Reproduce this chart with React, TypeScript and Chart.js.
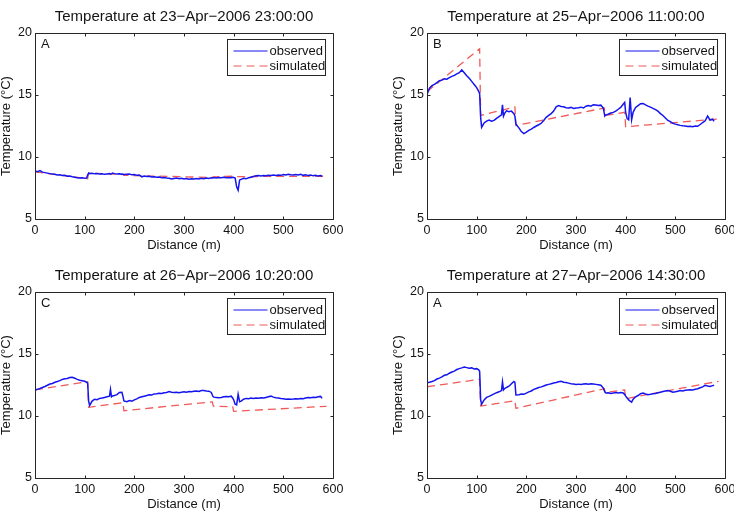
import React, { useEffect, useRef } from "react";
import { Chart, registerables } from "chart.js";

Chart.register(...registerables);

// Distance along the stream (m) at which observed temperatures were read
const DIST = [
  0, 5, 10, 15, 20, 25, 30, 35, 40, 45, 50, 55, 60, 65, 70, 75, 80, 85, 90, 95, 100,
  104, 106, 108, 110,
  115, 120, 125, 130, 135, 140, 145, 150,
  152, 154, 156,
  160, 165, 170, 175,
  177, 179,
  185, 190, 195, 200, 205, 210, 215, 220, 225, 230,
  235, 240, 245, 250, 255, 260, 265, 270, 275, 280,
  285, 290, 295, 300, 305, 310, 315, 320, 325, 330,
  335, 340, 345, 350, 355,
  358, 360,
  365, 370, 375, 380, 385, 390, 395,
  398, 400, 403, 406, 409, 412, 415,
  420, 425, 430, 435, 440, 445, 450, 455, 460, 465,
  470, 475, 480, 485, 490, 495, 500, 505, 510, 515,
  520, 525, 530, 535, 540, 545, 550, 555, 560, 565,
  570, 575,
  578,
];

// Observed temperature (°C), panel 1 (23-Apr-2006 23:00)
const OBS_1 = [
  8.87, 8.82, 8.9, 8.78, 8.74, 8.7, 8.66, 8.62, 8.6, 8.55, 8.56, 8.5, 8.52, 8.45, 8.46, 8.4, 8.36, 8.33, 8.3, 8.32, 8.28,
  8.3, 8.55, 8.7, 8.66,
  8.68, 8.64, 8.66, 8.62, 8.65, 8.6, 8.63, 8.66,
  8.62, 8.64, 8.7,
  8.66, 8.62, 8.64, 8.6,
  8.62, 8.58,
  8.6, 8.62, 8.56, 8.58, 8.52, 8.55, 8.4, 8.46, 8.42, 8.44,
  8.38, 8.4, 8.36, 8.38, 8.32, 8.34, 8.3, 8.28, 8.22, 8.26,
  8.3, 8.24, 8.28, 8.22, 8.26, 8.2, 8.24, 8.22, 8.27, 8.23,
  8.28, 8.25, 8.3, 8.27, 8.32,
  8.3, 8.34,
  8.3, 8.35, 8.32, 8.36, 8.33, 8.35, 8.32,
  8.36, 8.34, 8.3, 7.6, 7.32, 8.15, 8.2,
  8.28, 8.24, 8.32, 8.36, 8.42, 8.48, 8.5, 8.47, 8.5, 8.48,
  8.52, 8.5, 8.54, 8.51, 8.55, 8.52, 8.58, 8.55, 8.6, 8.56,
  8.54, 8.58, 8.55, 8.6, 8.52, 8.56, 8.5, 8.54, 8.48, 8.52,
  8.46, 8.5,
  8.45,
];

// Observed temperature (°C), panel 2 (25-Apr-2006 11:00)
const OBS_2 = [
  15.05, 15.55, 15.75, 15.85, 16.0, 16.15, 16.2, 16.3, 16.28, 16.4, 16.5, 16.58, 16.7, 16.8, 17.02, 16.8, 16.55, 16.35, 16.1, 15.85, 15.6,
  15.3, 15.1, 13.2, 12.4,
  12.75, 12.9, 12.98, 12.88, 12.95, 13.12, 13.25, 13.4,
  14.2, 13.3, 13.5,
  13.72, 13.65, 13.7, 13.5,
  13.3, 12.65,
  12.35, 12.05, 11.88, 12.0, 12.15, 12.25, 12.38, 12.5, 12.6, 12.72,
  12.95, 13.2, 13.35, 13.5, 13.7, 14.05, 14.15, 14.08, 14.05, 13.98,
  13.95, 14.0, 13.92, 13.96, 13.98, 14.02, 13.95, 14.1, 14.15, 14.1,
  14.22, 14.2, 14.15, 14.18, 13.95,
  13.3, 13.4,
  13.45, 13.55, 13.6, 13.7, 13.85, 14.0, 14.25,
  14.4, 13.6, 13.1, 13.0, 14.8, 13.0, 13.6,
  14.0, 14.15, 14.3, 14.32, 14.2, 14.1, 14.02, 13.92, 13.82, 13.7,
  13.5, 13.35, 13.15, 12.95, 12.85, 12.72, 12.65, 12.6, 12.55, 12.52,
  12.5, 12.46, 12.48, 12.45, 12.5, 12.48, 12.62, 12.78, 12.92, 13.3,
  12.98, 13.05,
  12.88,
];

// Observed temperature (°C), panel 3 (26-Apr-2006 10:20)
const OBS_3 = [
  12.1, 12.15, 12.22, 12.3, 12.38, 12.48, 12.58, 12.62, 12.72, 12.78, 12.85, 12.95, 13.0, 13.02, 13.1, 13.12, 13.05, 12.95, 12.88, 12.85, 12.8,
  12.72, 12.65, 11.2, 10.85,
  11.2, 11.35, 11.32, 11.42, 11.45, 11.5, 11.55, 11.6,
  12.15, 11.55, 11.62,
  11.65, 11.72, 11.9, 11.92,
  11.6, 11.22,
  11.15, 11.25, 11.2, 11.3, 11.38, 11.5, 11.55, 11.6, 11.65, 11.72,
  11.7, 11.78, 11.8, 11.84, 11.82, 11.88, 11.9, 11.98, 11.92, 11.9,
  11.92, 11.88, 11.92, 11.95, 11.92, 11.98, 11.95, 12.0, 12.02, 11.98,
  12.05, 12.06, 12.02, 12.0, 11.9,
  11.6, 11.52,
  11.5, 11.48, 11.5, 11.55, 11.58, 11.55, 11.6,
  11.45, 11.3, 10.95, 10.9, 11.75, 11.15, 11.2,
  11.35, 11.42, 11.4, 11.45, 11.42, 11.46, 11.44, 11.48, 11.45, 11.5,
  11.55, 11.6, 11.52, 11.48, 11.45, 11.42, 11.4, 11.36, 11.38, 11.35,
  11.37, 11.4, 11.38, 11.42, 11.4, 11.45, 11.5, 11.48, 11.52, 11.5,
  11.55, 11.58,
  11.42,
];

// Observed temperature (°C), panel 4 (27-Apr-2006 14:30)
const OBS_4 = [
  12.68, 12.72, 12.78, 12.85, 12.98, 13.05, 13.15, 13.28, 13.32, 13.45, 13.55, 13.62, 13.75, 13.82, 13.88, 13.95, 13.9, 13.85, 13.88, 13.8, 13.82,
  13.72, 13.6, 11.3, 10.95,
  11.3, 11.5, 11.58, 11.68, 11.78, 11.88, 11.95, 12.05,
  12.75, 12.1, 12.2,
  12.3, 12.4, 12.6, 12.78,
  12.72, 11.7,
  11.72, 11.78, 11.75, 11.85, 11.95, 12.02, 12.15, 12.22, 12.3, 12.35,
  12.42, 12.5, 12.55, 12.6, 12.66, 12.7, 12.76, 12.8, 12.72, 12.7,
  12.65, 12.6, 12.58, 12.55, 12.57, 12.54, 12.58, 12.6, 12.56, 12.6,
  12.58, 12.55, 12.52, 12.48, 12.25,
  11.95, 11.85,
  11.88, 11.82, 11.85, 11.9, 11.85, 11.9, 11.85,
  11.75, 11.6, 11.45, 11.3, 11.2, 11.12, 11.35,
  11.55, 11.65, 11.8, 11.85, 11.78, 11.72, 11.75, 11.8, 11.82, 11.88,
  11.92, 11.98, 12.02, 12.05, 12.0, 11.92, 11.95, 12.0, 12.05, 12.02,
  12.08, 12.1, 12.12, 12.1, 12.15, 12.2, 12.28, 12.35, 12.48, 12.42,
  12.38, 12.45,
  12.48,
];

// Simulated temperature breakpoints (m) and values (°C)
const SIM_DIST = [0, 106, 108, 177, 179, 357, 359, 398, 400, 587];
const SIM_1 = [8.8, 8.25, 8.7, 8.6, 8.52, 8.35, 8.4, 8.45, 8.42, 8.45];
const SIM_2 = [15.27, 18.73, 13.36, 14.03, 12.55, 13.95, 13.36, 13.6, 12.44, 13.07];
const SIM_3 = [12.1, 12.77, 10.7, 11.07, 10.43, 11.14, 10.8, 10.75, 10.38, 10.78];
const SIM_4 = [12.36, 12.96, 10.8, 11.24, 10.62, 12.2, 11.9, 12.1, 11.4, 12.8];

const X_TICKS = [0, 100, 200, 300, 400, 500, 600];
const Y_TICKS = [5, 10, 15, 20];

const TITLES = [
  "Temperature at 23\u2212Apr\u22122006 23:00:00",
  "Temperature at 25\u2212Apr\u22122006 11:00:00",
  "Temperature at 26\u2212Apr\u22122006 10:20:00",
  "Temperature at 27\u2212Apr\u22122006 14:30:00",
];
const PANEL_LABELS = ["A", "B", "C", "A"];
const SERIES_LABELS = ["observed", "simulated"];
const X_TITLE = "Distance (m)";
const Y_TITLE = "Temperature (\u00B0C)";

const FONT = "'Liberation Sans', Arial, Helvetica, sans-serif";
const TEXT = "#141414";
const AXIS = "#262626";
const OBS_COLOR = "#1414f0";
const SIM_COLOR = "#f05a5a";
const SIM_DASH = [8, 5];

for (const arr of [OBS_1, OBS_2, OBS_3, OBS_4]) {
  if (arr.length !== DIST.length) throw new Error("length mismatch " + arr.length + " vs " + DIST.length);
}

const framePlugin = {
  id: "frame",
  afterDraw(chart: any, _args: any, opts: any) {
    const { ctx, chartArea: a, scales } = chart;
    const L = Math.round(a.left) + 0.5;
    const R = Math.round(a.right) + 0.5;
    const T = Math.round(a.top) + 0.5;
    const B = Math.round(a.bottom) + 0.5;
    ctx.save();
    ctx.strokeStyle = AXIS;
    ctx.lineWidth = 1;
    ctx.setLineDash([]);
    ctx.beginPath();
    ctx.rect(L, T, R - L, B - T);
    ctx.stroke();
    const tl = 3;
    ctx.beginPath();
    for (const v of X_TICKS) {
      const px = Math.round(scales.x.getPixelForValue(v)) + 0.5;
      ctx.moveTo(px, B);
      ctx.lineTo(px, B - tl);
      ctx.moveTo(px, T);
      ctx.lineTo(px, T + tl);
    }
    for (const v of Y_TICKS) {
      const py = Math.round(scales.y.getPixelForValue(v)) + 0.5;
      ctx.moveTo(L, py);
      ctx.lineTo(L + tl, py);
      ctx.moveTo(R, py);
      ctx.lineTo(R - tl, py);
    }
    ctx.stroke();

    // panel letter
    ctx.fillStyle = TEXT;
    ctx.font = `13px ${FONT}`;
    ctx.textBaseline = "middle";
    ctx.textAlign = "left";
    ctx.fillText(opts.label, L + 5.5, T + 11);

    // legend box
    const w = 98;
    const h = 36;
    const x0 = Math.round(R - 9 - w) + 0.5;
    const y0 = Math.round(T + 5) + 0.5;
    ctx.fillStyle = "#ffffff";
    ctx.fillRect(x0, y0, w, h);
    ctx.strokeStyle = AXIS;
    ctx.lineWidth = 1;
    ctx.strokeRect(x0, y0, w, h);
    const styles = [
      { color: OBS_COLOR, dash: [] as number[] },
      { color: SIM_COLOR, dash: SIM_DASH },
    ];
    SERIES_LABELS.forEach((label, i) => {
      const yy = Math.round(y0 + 11 + 15 * i);
      ctx.save();
      ctx.strokeStyle = styles[i].color;
      ctx.lineWidth = 1.2;
      ctx.setLineDash(styles[i].dash);
      ctx.beginPath();
      ctx.moveTo(x0 + 6, yy);
      ctx.lineTo(x0 + 40, yy);
      ctx.stroke();
      ctx.restore();
      ctx.fillStyle = TEXT;
      ctx.font = `13px ${FONT}`;
      ctx.textBaseline = "middle";
      ctx.textAlign = "left";
      ctx.fillText(label, x0 + 42, yy);
    });
    ctx.restore();
  },
};

type PanelProps = {
  idx: number;
  obs: number[];
  sim: number[];
  left: number;
  top: number;
  width: number;
  rightPad: number;
};

function Panel({ idx, obs, sim, left, top, width, rightPad }: PanelProps) {
  const ref = useRef<HTMLCanvasElement | null>(null);
  useEffect(() => {
    const canvas = ref.current;
    if (!canvas) return;
    const tickFont = { family: FONT, size: 12.5 };
    const chart = new Chart(canvas, {
      type: "line",
      data: {
        datasets: [
          {
            label: SERIES_LABELS[0],
            data: DIST.map((d, i) => ({ x: d, y: obs[i] })),
            borderColor: OBS_COLOR,
            borderWidth: 1.5,
            pointRadius: 0,
            tension: 0,
            fill: false,
          },
          {
            label: SERIES_LABELS[1],
            data: SIM_DIST.map((d, i) => ({ x: d, y: sim[i] })),
            borderColor: SIM_COLOR,
            borderWidth: 1.3,
            borderDash: SIM_DASH,
            pointRadius: 0,
            tension: 0,
            fill: false,
          },
        ],
      },
      options: {
        animation: false,
        responsive: false,
        devicePixelRatio: 1,
        layout: { padding: { left: 0, right: rightPad, top: 0, bottom: 0 } },
        plugins: {
          legend: { display: false },
          tooltip: { enabled: false },
          title: {
            display: true,
            text: TITLES[idx],
            fullSize: false,
            color: TEXT,
            font: { family: FONT, size: 15, weight: "normal" },
            padding: { top: 7.5, bottom: 7.5 },
          },
          frame: { label: PANEL_LABELS[idx] },
        } as any,
        scales: {
          x: {
            type: "linear",
            min: 0,
            max: 600,
            afterBuildTicks: (s: any) => {
              s.ticks = X_TICKS.map((v) => ({ value: v }));
            },
            afterFit: (s: any) => {
              s.height = 43;
              s.paddingLeft = 0;
              s.paddingRight = 0;
            },
            ticks: { padding: 4, color: TEXT, font: tickFont, maxRotation: 0, autoSkip: false },
            grid: { display: false, drawTicks: false },
            border: { display: false },
            title: {
              display: true,
              text: X_TITLE,
              color: TEXT,
              font: { family: FONT, size: 13 },
              padding: { top: 0, bottom: 9.2 },
            },
          },
          y: {
            type: "linear",
            min: 5,
            max: 20,
            afterBuildTicks: (s: any) => {
              s.ticks = Y_TICKS.map((v) => ({ value: v }));
            },
            afterFit: (s: any) => {
              s.width = 60;
              s.paddingTop = 0;
              s.paddingBottom = 0;
            },
            ticks: { padding: 3, color: TEXT, font: tickFont, autoSkip: false },
            grid: { display: false, drawTicks: false },
            border: { display: false },
            title: {
              display: true,
              text: Y_TITLE,
              color: TEXT,
              font: { family: FONT, size: 13 },
              padding: { top: 23.2, bottom: 0 },
            },
          },
        },
      } as any,
      plugins: [framePlugin],
    });
    return () => chart.destroy();
  }, [idx, obs, sim, rightPad]);

  return (
    <canvas
      ref={ref}
      width={width}
      height={262}
      style={{ position: "absolute", left, top, width, height: 262, display: "block" }}
    />
  );
}

export default function App() {
  return (
    <div
      style={{
        position: "absolute",
        left: 0,
        top: 0,
        width: 734,
        height: 523,
        overflow: "hidden",
        background: "#ffffff",
      }}
    >
      <Panel idx={0} obs={OBS_1} sim={SIM_1} left={-25} top={0} width={392} rightPad={34} />
      <Panel idx={1} obs={OBS_2} sim={SIM_2} left={367} top={0} width={367} rightPad={9} />
      <Panel idx={2} obs={OBS_3} sim={SIM_3} left={-25} top={259} width={392} rightPad={34} />
      <Panel idx={3} obs={OBS_4} sim={SIM_4} left={367} top={259} width={367} rightPad={9} />
    </div>
  );
}
